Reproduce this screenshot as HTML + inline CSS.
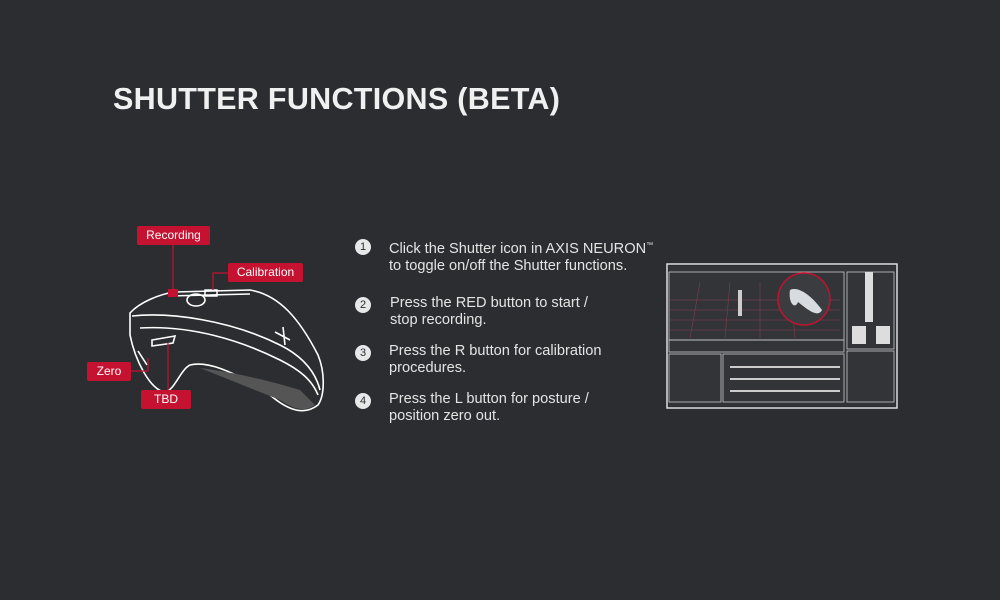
<!DOCTYPE html>
<html><head><style>
body{margin:0;width:1000px;height:600px;background:#2b2d31;position:relative;overflow:hidden;font-family:"Liberation Sans",Arial,sans-serif;color:#e8e8e8}
.t{position:absolute;left:113px;top:82px;font-size:30.5px;font-weight:bold;color:#f0f0f0;letter-spacing:0.3px}
.lb{position:absolute;background:#c41230;color:#fff;font-size:12px;text-align:center;line-height:19px;border-radius:2px}
.n{position:absolute;left:355px;width:16px;height:16px;border-radius:50%;background:#e8e8e8;color:#2b2d31;font-size:11px;text-align:center;line-height:16px}
.p{position:absolute;font-size:14.6px;line-height:17px;color:#e4e4e4}
</style></head><body>
<div class="t">SHUTTER FUNCTIONS (BETA)</div>
<svg width="1000" height="600" style="position:absolute;left:0;top:0">
<g fill="none" stroke="#fff" stroke-width="1.6">
<path d="M130 313 C140 302 160 294 175 292 L250 290 C280 295 300 320 318 355 C325 372 325 395 318 405 C305 415 290 412 270 395 C240 375 210 360 190 365 C180 370 175 390 165 392 C150 390 135 360 130 335 Z"/>
<path d="M132 316 C170 312 230 320 280 345 C300 355 315 370 320 390"/>
<path d="M140 328 C190 325 240 340 280 360 C300 370 312 380 318 395"/>
<path d="M168 296 L250 294"/>
<ellipse cx="196" cy="300" rx="9" ry="6"/>
<path d="M152 340 L175 336 L173 343 L152 346 Z"/>
<path d="M138 351 L147 365"/>
<path d="M275 332 L290 340 M283 327 L285 345"/>
</g>
<path d="M200 368 L280 400 C295 410 305 412 315 405 L300 390 C260 378 230 372 200 368Z" fill="#555" />
<rect x="168" y="289" width="10" height="8" fill="#c41230"/>
<rect x="205" y="290" width="12" height="6" fill="none" stroke="#fff" stroke-width="1.5"/>
<g stroke="#c41230" stroke-width="1.2" fill="none">
<path d="M173 245 L173 289"/><path d="M228 273 L213 273 L213 290"/>
<path d="M131 371 L148 371 L148 358"/><path d="M168 390 L168 343"/>
</g>
<g fill="none" stroke="#ddd" stroke-width="1.5">
<rect x="667" y="264" width="230" height="144"/>
</g>
<rect x="669" y="266" width="226" height="140" fill="#333438"/>
<g stroke="#c9c9c9" stroke-width="0.8" fill="none">
<rect x="669" y="272" width="175" height="68"/>
<rect x="847" y="272" width="47" height="77"/>
<rect x="669" y="340" width="175" height="12"/>
<rect x="669" y="354" width="52" height="48"/>
<rect x="723" y="354" width="121" height="48"/>
<rect x="847" y="351" width="47" height="51"/>
</g>
<g stroke="#8a4050" stroke-width="0.5">
<path d="M670 300 L840 300 M670 310 L840 310 M670 320 L840 320 M670 330 L840 330 M700 282 L690 338 M730 282 L725 338 M760 282 L760 338 M790 282 L795 338"/>
</g>
<circle cx="804" cy="299" r="26" fill="#3a3c40" stroke="#c41230" stroke-width="1.5"/>
<path d="M790 290 C800 285 815 300 822 310 C818 318 808 310 798 302 C795 310 788 303 790 290Z" fill="#d8dce0"/>
<rect x="738" y="290" width="4" height="26" fill="#ccc"/>
<g fill="#ddd"><rect x="865" y="272" width="8" height="50"/><rect x="852" y="326" width="14" height="18"/><rect x="876" y="326" width="14" height="18"/></g>
<g fill="#ccc"><rect x="730" y="366" width="110" height="2"/><rect x="730" y="378" width="110" height="2"/><rect x="730" y="390" width="110" height="2"/></g>
</svg>
<div class="lb" style="left:137px;top:226px;width:73px">Recording</div>
<div class="lb" style="left:228px;top:263px;width:75px">Calibration</div>
<div class="lb" style="left:87px;top:362px;width:44px">Zero</div>
<div class="lb" style="left:141px;top:390px;width:50px">TBD</div>
<div class="n" style="top:239px">1</div>
<div class="p" style="left:389px;top:237px">Click the Shutter icon in AXIS NEURON<sup style="font-size:7px">™</sup><br>to toggle on/off the Shutter functions.</div>
<div class="n" style="top:297px">2</div>
<div class="p" style="left:390px;top:295px">Press the RED button to start /<br>stop recording.</div>
<div class="n" style="top:345px">3</div>
<div class="p" style="left:389px;top:343px">Press the R button for calibration<br>procedures.</div>
<div class="n" style="top:393px">4</div>
<div class="p" style="left:389px;top:391px">Press the L button for posture /<br>position zero out.</div>
</body></html>
